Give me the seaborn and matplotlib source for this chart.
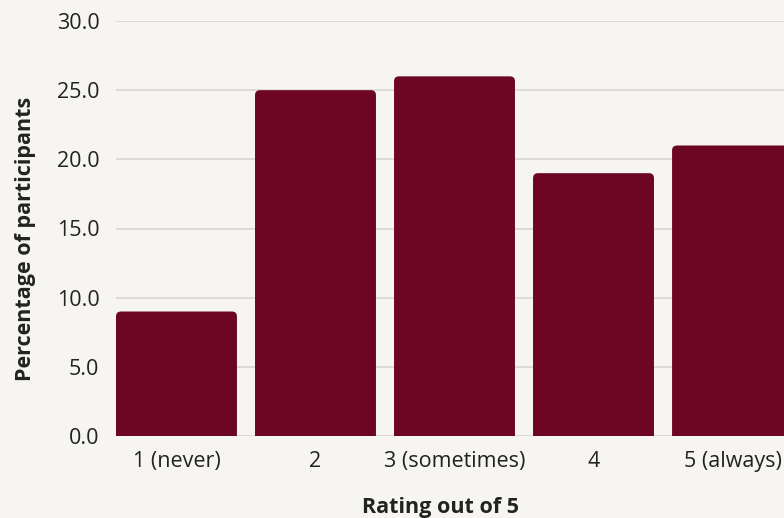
import matplotlib
matplotlib.use("Agg")
import matplotlib.pyplot as plt
from matplotlib.patches import FancyBboxPatch
import seaborn as sns
import pandas as pd

# Survey responses
ratings = ["1 (never)", "2", "3 (sometimes)", "4", "5 (always)"]
percentages = [9.0, 25.0, 26.0, 19.0, 21.0]
y_ticks = [0, 5, 10, 15, 20, 25, 30]

BG = "#f6f5f1"
BAR = "#6d0623"
GRID = "#dcdbd7"
TEXT = "#222222"

sns.set_theme(style="white")
plt.rcParams["font.family"] = ["Open Sans", "DejaVu Sans"]

df = pd.DataFrame({"rating": ratings, "pct": percentages})

fig = plt.figure(figsize=(7.84, 5.18), dpi=100, facecolor=BG)
ax = fig.add_axes([116 / 784, 82 / 518, 677 / 784, 415 / 518])
ax.set_facecolor(BG)

sns.barplot(data=df, x="rating", y="pct", color=BAR, width=0.87,
            saturation=1, ax=ax, zorder=3)

ax.set_xlim(-0.435, 4.435)
ax.set_ylim(0, 30)
ax.set_yticks(y_ticks)
ax.set_yticklabels([f"{t:.1f}" for t in y_ticks])

# Replace the square bars with versions that have rounded top corners
fig.canvas.draw()
bbox = ax.get_window_extent()
x_per_px = (ax.get_xlim()[1] - ax.get_xlim()[0]) / bbox.width
y_per_px = (ax.get_ylim()[1] - ax.get_ylim()[0]) / bbox.height
radius_px = 5
for bar in list(ax.patches):
    x0, w, h = bar.get_x(), bar.get_width(), bar.get_height()
    ext = radius_px * y_per_px
    rounded = FancyBboxPatch(
        (x0, -ext), w, h + ext,
        boxstyle=f"round,pad=0,rounding_size={radius_px * x_per_px}",
        mutation_aspect=y_per_px / x_per_px,
        facecolor=BAR, edgecolor="none", zorder=3,
    )
    bar.remove()
    ax.add_patch(rounded)

ax.grid(axis="y", color=GRID, linewidth=1.4, zorder=0)
ax.grid(axis="x", visible=False)
for s in ax.spines.values():
    s.set_visible(False)
ax.tick_params(axis="both", length=0, labelsize=15.5, colors=TEXT)
ax.tick_params(axis="y", pad=12)
ax.tick_params(axis="x", pad=11)

ax.set_xlabel("Rating out of 5", fontsize=15.5, fontweight="bold",
              color=TEXT, labelpad=18)
ax.set_ylabel("Percentage of participants", fontsize=15.5,
              fontweight="bold", color=TEXT, labelpad=15)
ax.xaxis.label.set_x(0.479)
ax.yaxis.label.set_y(0.475)

fig.savefig("out.png", dpi=100, facecolor=BG)
